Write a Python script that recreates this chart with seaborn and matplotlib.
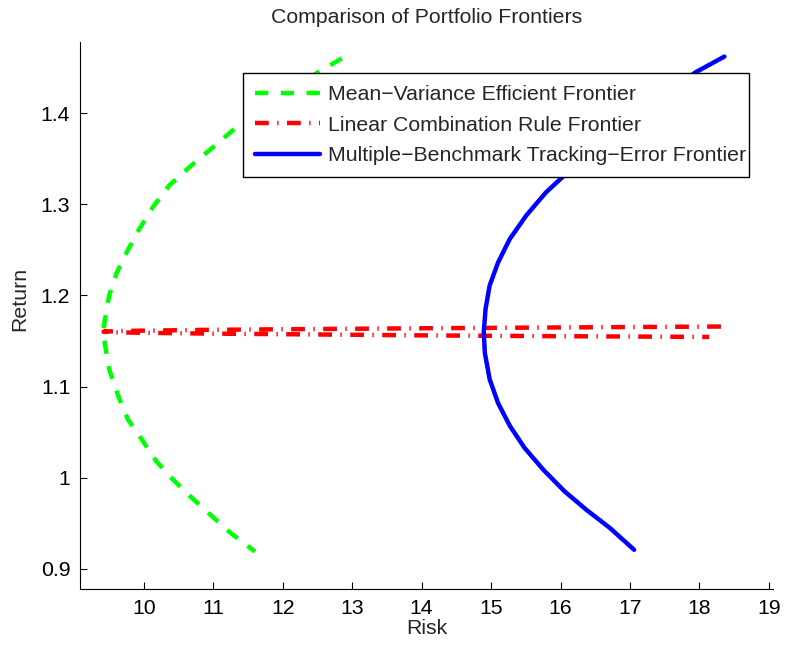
import numpy as np
import pandas as pd
import seaborn as sns
import matplotlib
matplotlib.use("Agg")
import matplotlib.pyplot as plt

# values (risk, return)
mv_risk = [12.85, 12.49, 12.20, 11.80, 11.31, 10.97, 10.66, 10.37, 10.13, 9.92,
           9.75, 9.61, 9.50, 9.44, 9.415, 9.44, 9.50, 9.63, 9.77, 9.97,
           10.18, 10.42, 10.69, 10.95, 11.24, 11.60]
mv_return = [1.460, 1.444, 1.428, 1.406, 1.383, 1.361, 1.341, 1.321, 1.297, 1.271,
             1.247, 1.225, 1.200, 1.174, 1.160, 1.146, 1.119, 1.090, 1.064, 1.042,
             1.018, 0.998, 0.978, 0.960, 0.940, 0.919]

lc_risk = [18.31, 16.00, 14.00, 12.00, 11.00, 10.00, 9.60, 9.42,
           9.60, 10.00, 11.00, 12.00, 14.00, 16.00, 18.14]
lc_return = [1.1659, 1.1649, 1.1640, 1.1629, 1.1623, 1.1614, 1.1609, 1.1602,
             1.1595, 1.1590, 1.1581, 1.1575, 1.1562, 1.1553, 1.1545]

te_risk = [18.36, 17.95, 17.67, 17.13, 16.63, 16.13, 15.79, 15.51, 15.27, 15.10,
           14.98, 14.92, 14.895, 14.91, 14.98, 15.10, 15.27, 15.48, 15.75, 16.06,
           16.37, 16.71, 17.06]
te_return = [1.462, 1.445, 1.430, 1.400, 1.370, 1.337, 1.313, 1.288, 1.262, 1.236,
             1.211, 1.185, 1.160, 1.137, 1.108, 1.082, 1.057, 1.033, 1.009, 0.985,
             0.965, 0.945, 0.921]

labels = ["Mean\u2212Variance Efficient Frontier",
          "Linear Combination Rule Frontier",
          "Multiple\u2212Benchmark Tracking\u2212Error Frontier"]

x_ticks = [10, 11, 12, 13, 14, 15, 16, 17, 18, 19]
y_ticks = [0.9, 1.0, 1.1, 1.2, 1.3, 1.4]
y_ticklabels = ["0.9", "1", "1.1", "1.2", "1.3", "1.4"]

sns.set_style("ticks")
plt.rcParams["font.family"] = ["Liberation Sans", "DejaVu Sans"]
fs = 15.3

fig = plt.figure(figsize=(7.85, 6.47), dpi=100)
ax = fig.add_axes([80 / 785, 1 - 589 / 647, 693 / 785, 547 / 647])

curves = [
    (mv_risk, mv_return, "#00ff00", (0, (3.0, 2.8))),
    (lc_risk, lc_return, "#ff0000", (0, (3.1, 1.9, 0.3, 1.9))),
    (te_risk, te_return, "#0000ff", "-"),
]
for (rx, ry, col, ls), lab in zip(curves, labels):
    df = pd.DataFrame({"risk": rx, "ret": ry})
    sns.lineplot(data=df, x="risk", y="ret", sort=False, estimator=None,
                 color=col, linewidth=3.2, linestyle=ls, label=lab, ax=ax)

ax.set_xlim(9.08, 19.06)
ax.set_ylim(0.878, 1.478)
ax.set_xticks(x_ticks)
ax.set_yticks(y_ticks)
ax.set_yticklabels(y_ticklabels)
ax.tick_params(direction="in", length=5, width=0.8, colors="black",
               labelsize=fs, pad=7)
for s in ["top", "right"]:
    ax.spines[s].set_visible(False)
for s in ["left", "bottom"]:
    ax.spines[s].set_color("black")
    ax.spines[s].set_linewidth(0.8)

ax.set_title("Comparison of Portfolio Frontiers", fontsize=fs, pad=14)
ax.set_xlabel("Risk", fontsize=fs, labelpad=1)
ax.set_ylabel("Return", fontsize=fs)
ax.yaxis.set_label_coords(-0.0736, 0.53)

# fixed legend width like the reference (text runs past the frame)
bx0 = (243.3 - 80) / 693
by1 = (589 - 73.3) / 547
bw = (749.3 - 243.3) / 693
bh = (170 - 73.3) / 547
leg = ax.legend(loc="upper left", bbox_to_anchor=(bx0, by1 - bh, bw, bh),
                mode="expand", borderaxespad=0, fontsize=fs, handlelength=3.05,
                handletextpad=0.4, labelspacing=0.55, borderpad=0.55,
                fancybox=False, framealpha=1, edgecolor="black")
leg.get_frame().set_linewidth(1.0)

fig.savefig("out.png", dpi=100)
